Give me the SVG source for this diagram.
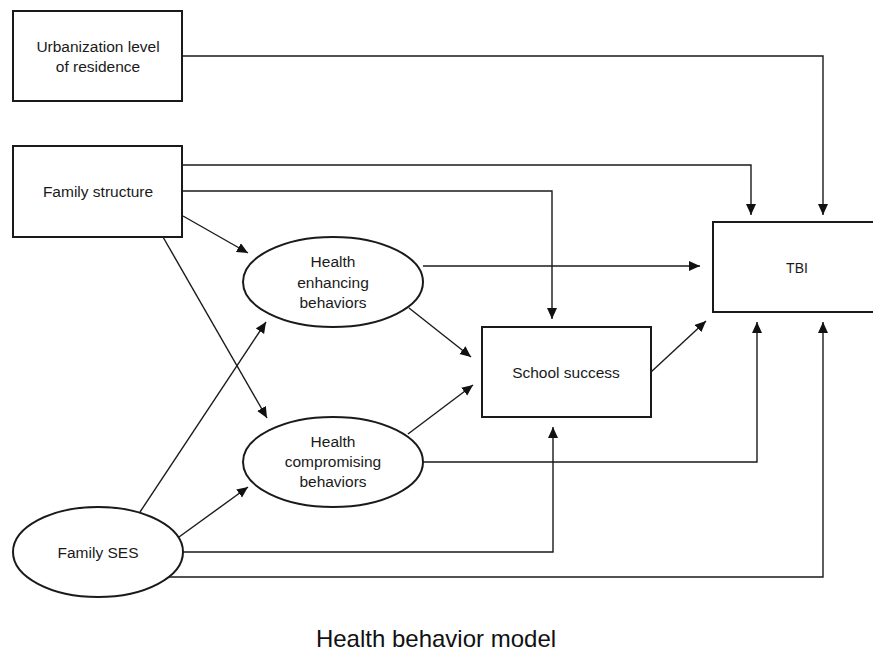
<svg xmlns="http://www.w3.org/2000/svg" width="873" height="659" viewBox="0 0 873 659">
<style>
.box{fill:#fff;stroke:#1a1a1a;stroke-width:2}
.lbl{font-family:"Liberation Sans",Arial,sans-serif;font-size:15.5px;fill:#1a1a1a;text-anchor:middle}
.con{fill:none;stroke:#1a1a1a;stroke-width:1.4}
.title{font-family:"Liberation Sans",Arial,sans-serif;font-size:24px;fill:#111;text-anchor:middle}
</style>
<defs>
<marker id="ah" markerUnits="userSpaceOnUse" markerWidth="12" markerHeight="11" refX="11" refY="5" orient="auto">
<path d="M0,0 L11,5 L0,10 z" fill="#111"/>
</marker>
</defs>
<rect width="873" height="659" fill="#fff"/>
<g id="connectors">
<path class="con" marker-end="url(#ah)" d="M183,56 H823 V215"/>
<path class="con" marker-end="url(#ah)" d="M183,165 H751 V215"/>
<path class="con" marker-end="url(#ah)" d="M183,191 H552 V319"/>
<path class="con" marker-end="url(#ah)" d="M183,216 L248,253"/>
<path class="con" marker-end="url(#ah)" d="M163,237 L267,418"/>
<path class="con" marker-end="url(#ah)" d="M140,512 L266,322"/>
<path class="con" marker-end="url(#ah)" d="M179,537 L248,487"/>
<path class="con" marker-end="url(#ah)" d="M183,552 H553 V427"/>
<path class="con" marker-end="url(#ah)" d="M169,577 H823 V322"/>
<path class="con" marker-end="url(#ah)" d="M423,266 H700"/>
<path class="con" marker-end="url(#ah)" d="M409,308 L471,357"/>
<path class="con" marker-end="url(#ah)" d="M408,434 L473,385"/>
<path class="con" marker-end="url(#ah)" d="M423,462 H757 V322"/>
<path class="con" marker-end="url(#ah)" d="M651,372 L706,321"/>
</g>
<g id="urbanization">
<rect class="box" x="13" y="11" width="169" height="90"/>
<text class="lbl" x="98" y="52">Urbanization level</text>
<text class="lbl" x="98" y="72">of residence</text>
</g>
<g id="family-structure">
<rect class="box" x="13" y="146" width="169" height="91"/>
<text class="lbl" x="98" y="197">Family structure</text>
</g>
<g id="health-enhancing">
<ellipse class="box" cx="333" cy="282" rx="90" ry="45"/>
<text class="lbl" x="333" y="267">Health</text>
<text class="lbl" x="333" y="288">enhancing</text>
<text class="lbl" x="333" y="308">behaviors</text>
</g>
<g id="health-compromising">
<ellipse class="box" cx="333" cy="462" rx="90" ry="45"/>
<text class="lbl" x="333" y="447">Health</text>
<text class="lbl" x="333" y="467">compromising</text>
<text class="lbl" x="333" y="487">behaviors</text>
</g>
<g id="school-success">
<rect class="box" x="482" y="327" width="169" height="90"/>
<text class="lbl" x="566" y="378">School success</text>
</g>
<g id="family-ses">
<ellipse class="box" cx="98" cy="552" rx="85" ry="45"/>
<text class="lbl" x="98" y="558">Family SES</text>
</g>
<g id="tbi">
<rect class="box" x="713" y="222" width="170" height="90"/>
<text class="lbl" x="797" y="273" style="font-size:14px">TBI</text>
</g>
<text class="title" x="436" y="647">Health behavior model</text>
</svg>
